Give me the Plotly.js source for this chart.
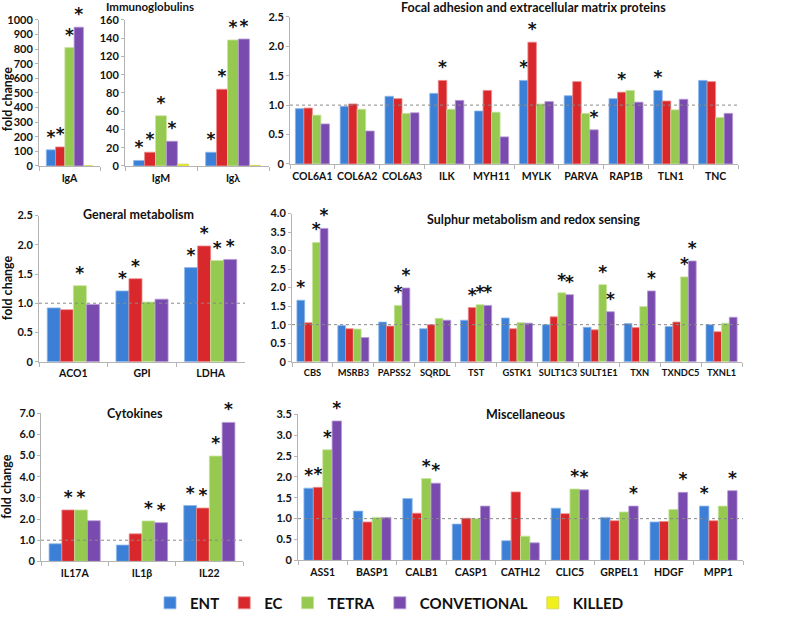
<!DOCTYPE html>
<html>
<head>
<meta charset="utf-8">
<script src="https://cdn.plot.ly/plotly-3.0.1.min.js"></script>
<style>
  html, body { margin: 0; padding: 0; background: #fff; }
  #chart { width: 787px; height: 620px; }
</style>
</head>
<body>
<div id="chart"></div>
<script>
// ── Series ────────────────────────────────────────────────────────────────────
const SERIES = ['ENT', 'EC', 'TETRA', 'CONVETIONAL', 'KILLED'];

// ── Immunoglobulins (IgA, own scale) ─────────────────────────────────────────
const IGA_CATS     = ['IgA'];
const IGA_ENT      = [110];
const IGA_EC       = [130];
const IGA_TETRA    = [810];
const IGA_CONV     = [950];
const IGA_KILLED   = [1];
const IGA_SIG_ENT  = [1];
const IGA_SIG_EC   = [1];
const IGA_SIG_TET  = [1];
const IGA_SIG_CONV = [1];

// ── Immunoglobulins (IgM, Igλ) ───────────────────────────────────────────────
const IG_CATS     = ['IgM', 'Igλ'];
const IG_ENT      = [6, 15];
const IG_EC       = [15, 84];
const IG_TETRA    = [55, 138];
const IG_CONV     = [27, 139];
const IG_KILLED   = [2, 0.6];
const IG_SIG_ENT  = [1, 1];
const IG_SIG_EC   = [1, 1];
const IG_SIG_TET  = [1, 1];
const IG_SIG_CONV = [1, 1];

// ── Focal adhesion and extracellular matrix proteins ─────────────────────────
const FOCAL_CATS     = ['COL6A1', 'COL6A2', 'COL6A3', 'ILK', 'MYH11', 'MYLK', 'PARVA', 'RAP1B', 'TLN1', 'TNC'];
const FOCAL_ENT      = [0.94, 0.98, 1.15, 1.20, 0.90, 1.42, 1.16, 1.11, 1.25, 1.42];
const FOCAL_EC       = [0.95, 1.02, 1.11, 1.42, 1.25, 2.07, 1.40, 1.22, 1.07, 1.40];
const FOCAL_TETRA    = [0.83, 0.93, 0.86, 0.93, 0.88, 1.02, 0.86, 1.25, 0.92, 0.79];
const FOCAL_CONV     = [0.68, 0.56, 0.87, 1.08, 0.46, 1.06, 0.58, 1.05, 1.10, 0.86];
const FOCAL_SIG_ENT  = [0, 0, 0, 0, 0, 1, 0, 0, 1, 0];
const FOCAL_SIG_EC   = [0, 0, 0, 1, 0, 1, 0, 1, 0, 0];
const FOCAL_SIG_TET  = [0, 0, 0, 0, 0, 0, 0, 0, 0, 0];
const FOCAL_SIG_CONV = [0, 0, 0, 0, 0, 0, 1, 0, 0, 0];

// ── General metabolism ───────────────────────────────────────────────────────
const GEN_CATS     = ['ACO1', 'GPI', 'LDHA'];
const GEN_ENT      = [0.92, 1.21, 1.61];
const GEN_EC       = [0.89, 1.42, 1.98];
const GEN_TETRA    = [1.30, 1.02, 1.73];
const GEN_CONV     = [0.98, 1.07, 1.75];
const GEN_SIG_ENT  = [0, 1, 1];
const GEN_SIG_EC   = [0, 1, 1];
const GEN_SIG_TET  = [1, 0, 1];
const GEN_SIG_CONV = [0, 0, 1];

// ── Sulphur metabolism and redox sensing ─────────────────────────────────────
const SUL_CATS     = ['CBS', 'MSRB3', 'PAPSS2', 'SQRDL', 'TST', 'GSTK1', 'SULT1C3', 'SULT1E1', 'TXN', 'TXNDC5', 'TXNL1'];
const SUL_ENT      = [1.66, 0.98, 1.07, 0.89, 1.12, 1.18, 1.00, 0.93, 1.03, 0.95, 1.00];
const SUL_EC       = [1.05, 0.89, 0.96, 1.00, 1.46, 0.89, 1.21, 0.86, 0.92, 1.07, 0.81];
const SUL_TETRA    = [3.22, 0.88, 1.52, 1.17, 1.54, 1.06, 1.86, 2.08, 1.49, 2.29, 1.04];
const SUL_CONV     = [3.60, 0.65, 1.99, 1.12, 1.52, 1.04, 1.81, 1.35, 1.91, 2.72, 1.20];
const SUL_SIG_ENT  = [1, 0, 0, 0, 0, 0, 0, 0, 0, 0, 0];
const SUL_SIG_EC   = [0, 0, 0, 0, 1, 0, 0, 0, 0, 0, 0];
const SUL_SIG_TET  = [1, 0, 1, 0, 1, 0, 1, 1, 0, 1, 0];
const SUL_SIG_CONV = [1, 0, 1, 0, 1, 0, 1, 1, 1, 1, 0];

// ── Cytokines ────────────────────────────────────────────────────────────────
const CYT_CATS     = ['IL17A', 'IL1β', 'IL22'];
const CYT_ENT      = [0.83, 0.77, 2.64];
const CYT_EC       = [2.43, 1.30, 2.52];
const CYT_TETRA    = [2.43, 1.91, 4.98];
const CYT_CONV     = [1.92, 1.83, 6.57];
const CYT_SIG_ENT  = [0, 0, 1];
const CYT_SIG_EC   = [1, 0, 1];
const CYT_SIG_TET  = [1, 1, 1];
const CYT_SIG_CONV = [0, 1, 1];

// ── Miscellaneous ────────────────────────────────────────────────────────────
const MISC_CATS     = ['ASS1', 'BASP1', 'CALB1', 'CASP1', 'CATHL2', 'CLIC5', 'GRPEL1', 'HDGF', 'MPP1'];
const MISC_ENT      = [1.73, 1.18, 1.48, 0.87, 0.47, 1.25, 1.03, 0.92, 1.30];
const MISC_EC       = [1.75, 0.92, 1.13, 1.01, 1.64, 1.12, 0.95, 0.93, 0.95];
const MISC_TETRA    = [2.65, 1.03, 1.96, 1.00, 0.58, 1.71, 1.16, 1.22, 1.30];
const MISC_CONV     = [3.34, 1.03, 1.85, 1.30, 0.42, 1.69, 1.30, 1.63, 1.67];
const MISC_SIG_ENT  = [1, 0, 0, 0, 0, 0, 0, 0, 1];
const MISC_SIG_EC   = [1, 0, 0, 0, 0, 0, 0, 0, 0];
const MISC_SIG_TET  = [1, 0, 1, 0, 0, 1, 0, 0, 0];
const MISC_SIG_CONV = [1, 0, 1, 0, 0, 1, 1, 1, 1];

// ── Y tick labels ────────────────────────────────────────────────────────────
const TICKS_IGA  = [0, 100, 200, 300, 400, 500, 600, 700, 800, 900, 1000];
const TICKS_IG   = [0, 20, 40, 60, 80, 100, 120, 140, 160];
const TICKS_25   = [0, 0.5, 1.0, 1.5, 2.0, 2.5];
const TICKS_40   = [0, 0.5, 1.0, 1.5, 2.0, 2.5, 3.0, 3.5, 4.0];
const TICKS_70   = [0, 1, 2, 3, 4, 5, 6, 7];
const TICKS_35   = [0, 0.5, 1.0, 1.5, 2.0, 2.5, 3.0, 3.5];

// ── Style ────────────────────────────────────────────────────────────────────
const COLORS = ['#3b80d6', '#d8282b', '#95c94f', '#7a4bae', '#f0f01c'];
const EDGES  = ['#8fb8ea', '#ee8a8a', '#c8e49d', '#b69ad6', '#d0d060'];
const FONT   = 'Lato, "Open Sans", "DejaVu Sans", sans-serif';
const W = 787, H = 620;

function domX(a, b) { return [a / W, b / W]; }
function domY(top, bottom) { return [1 - bottom / H, 1 - top / H]; }

function fmtTick(v, dec) { return v === 0 ? '0' : v.toFixed(dec); }

// Build the bar traces of one panel
function panelTraces(cats, vals, sigs, n, showlegend) {
  return vals.map((v, k) => ({
    type: 'bar', x: cats, y: v, name: SERIES[k],
    xaxis: 'x' + (n === 1 ? '' : n), yaxis: 'y' + (n === 1 ? '' : n),
    marker: { color: COLORS[k], line: { color: EDGES[k], width: 0.8 } },
    text: (sigs[k] || []).map(s => s ? '*' : ''),
    textposition: 'outside', cliponaxis: false, constraintext: 'none',
    textfont: { family: 'DejaVu Sans, sans-serif', size: 17, color: '#111', weight: 'bold' },
    showlegend: showlegend, legendgroup: SERIES[k], hoverinfo: 'x+y+name',
  }));
}

const traces = [
  ...panelTraces(IGA_CATS, [IGA_ENT, IGA_EC, IGA_TETRA, IGA_CONV, IGA_KILLED],
    [IGA_SIG_ENT, IGA_SIG_EC, IGA_SIG_TET, IGA_SIG_CONV], 1, true),
  ...panelTraces(IG_CATS, [IG_ENT, IG_EC, IG_TETRA, IG_CONV, IG_KILLED],
    [IG_SIG_ENT, IG_SIG_EC, IG_SIG_TET, IG_SIG_CONV], 2, false),
  ...panelTraces(FOCAL_CATS, [FOCAL_ENT, FOCAL_EC, FOCAL_TETRA, FOCAL_CONV],
    [FOCAL_SIG_ENT, FOCAL_SIG_EC, FOCAL_SIG_TET, FOCAL_SIG_CONV], 3, false),
  ...panelTraces(GEN_CATS, [GEN_ENT, GEN_EC, GEN_TETRA, GEN_CONV],
    [GEN_SIG_ENT, GEN_SIG_EC, GEN_SIG_TET, GEN_SIG_CONV], 4, false),
  ...panelTraces(SUL_CATS, [SUL_ENT, SUL_EC, SUL_TETRA, SUL_CONV],
    [SUL_SIG_ENT, SUL_SIG_EC, SUL_SIG_TET, SUL_SIG_CONV], 5, false),
  ...panelTraces(CYT_CATS, [CYT_ENT, CYT_EC, CYT_TETRA, CYT_CONV],
    [CYT_SIG_ENT, CYT_SIG_EC, CYT_SIG_TET, CYT_SIG_CONV], 6, false),
  ...panelTraces(MISC_CATS, [MISC_ENT, MISC_EC, MISC_TETRA, MISC_CONV],
    [MISC_SIG_ENT, MISC_SIG_EC, MISC_SIG_TET, MISC_SIG_CONV], 7, false),
];

// ── Axes ─────────────────────────────────────────────────────────────────────
const AX_LINE = '#b4b4b4';
function xAxis(dom, anchor, size) {
  return {
    domain: dom, anchor: anchor, type: 'category',
    showline: true, linecolor: AX_LINE, linewidth: 1,
    ticks: 'outside', tickson: 'boundaries', ticklen: 4, tickcolor: AX_LINE,
    tickangle: 0, ticklabelstandoff: 2,
    tickfont: { family: FONT, size: size || 10.5, color: '#111', weight: 'bold' },
    showgrid: false, zeroline: false, fixedrange: true,
  };
}
function yAxis(dom, anchor, ticks, dec) {
  return {
    domain: dom, anchor: anchor, range: [0, ticks[ticks.length - 1]], autorange: false,
    tickvals: ticks, ticktext: ticks.map(v => fmtTick(v, dec)),
    showline: true, linecolor: AX_LINE, linewidth: 1,
    ticks: 'outside', ticklen: 3, tickcolor: AX_LINE,
    tickfont: { family: FONT, size: 11, color: '#111', weight: 'bold' },
    showgrid: false, zeroline: false, fixedrange: true,
  };
}

// Dotted reference line at fold change = 1
function refLine(n) {
  const s = n === 1 ? '' : n;
  return {
    type: 'line', xref: 'x' + s + ' domain', x0: 0, x1: 1, yref: 'y' + s, y0: 1, y1: 1,
    line: { color: '#8a8a8a', width: 1, dash: 'dot' }, layer: 'above',
  };
}

function title(text, x, y, size) {
  return {
    xref: 'paper', yref: 'paper', x: x / W, y: 1 - y / H, xanchor: 'center', yanchor: 'middle',
    text: text, showarrow: false, borderpad: 0,
    font: { family: FONT, size: size || 12.5, color: '#111', weight: 'bold' },
  };
}
function yTitle(y) {
  return {
    xref: 'paper', yref: 'paper', x: 7 / W, y: 1 - y / H, xanchor: 'center', yanchor: 'middle',
    text: 'fold change', textangle: -90, showarrow: false,
    font: { family: FONT, size: 12.5, color: '#111', weight: 'bold' },
  };
}

const layout = {
  width: W, height: H,
  margin: { l: 0, r: 0, t: 0, b: 0 },
  paper_bgcolor: '#fff', plot_bgcolor: '#fff',
  barmode: 'group', bargap: 0.24, bargroupgap: 0,
  font: { family: FONT, color: '#111' },
  showlegend: true,
  legend: {
    orientation: 'h', x: 150 / W, y: 1 - 607 / H, xanchor: 'left', yanchor: 'middle',
    font: { family: FONT, size: 15, color: '#111', weight: 'bold' },
    itemwidth: 30, bgcolor: 'rgba(0,0,0,0)', traceorder: 'normal',
  },
  xaxis:  xAxis(domX(39, 100), 'y'),
  yaxis:  yAxis(domY(20, 167), 'x', TICKS_IGA, 0),
  xaxis2: xAxis(domX(125, 269), 'y2'),
  yaxis2: yAxis(domY(20, 167), 'x2', TICKS_IG, 0),
  xaxis3: xAxis(domX(290, 738), 'y3'),
  yaxis3: yAxis(domY(17, 165), 'x3', TICKS_25, 1),
  xaxis4: xAxis(domX(39, 245), 'y4'),
  yaxis4: yAxis(domY(217, 364), 'x4', TICKS_25, 1),
  xaxis5: xAxis(domX(292, 742), 'y5', 9.3),
  yaxis5: yAxis(domY(215, 364), 'x5', TICKS_40, 1),
  xaxis6: xAxis(domX(41, 243), 'y6'),
  yaxis6: yAxis(domY(416, 565), 'x6', TICKS_70, 1),
  xaxis7: xAxis(domX(298, 743), 'y7'),
  yaxis7: yAxis(domY(417, 564), 'x7', TICKS_35, 1),
  shapes: [3, 4, 5, 6, 7].map(refLine),
  annotations: [
    title('Immunoglobulins', 150, 7, 11.5),
    title('Focal adhesion and extracellular matrix proteins', 533, 8),
    title('General metabolism', 138, 216),
    title('Sulphur metabolism and redox sensing', 533, 221),
    title('Cytokines', 135, 416),
    title('Miscellaneous', 525, 417),
    yTitle(100), yTitle(290), yTitle(490),
  ],
};

Plotly.newPlot('chart', traces, layout, { displayModeBar: false, staticPlot: true });
</script>
</body>
</html>
